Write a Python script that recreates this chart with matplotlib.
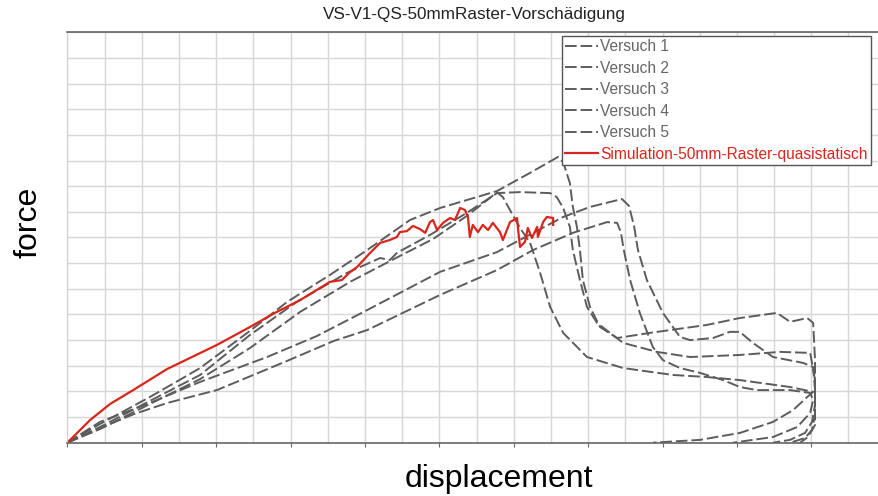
import numpy as np
import matplotlib
matplotlib.use("Agg")
import matplotlib.pyplot as plt

plt.rcParams['font.family'] = ['Liberation Sans', 'DejaVu Sans']

# Versuch curves (displacement, force) in grid units
v1_x = [0, 0.88, 2.22, 3.57, 4.91, 5.91, 7.06, 8.06, 9.21, 10.02, 10.74, 11.55, 12.44, 13.19,
        13.33, 13.51, 13.59, 13.70, 13.78, 13.86, 14.05, 14.32, 14.78, 15.66, 17.19, 18.08,
        19.08, 19.43, 19.89, 20.05, 20.10, 20.10, 20.10, 19.91, 19.70]
v1_y = [0, 0.73, 1.78, 2.91, 4.36, 5.49, 6.54, 7.51, 8.68, 9.15, 9.46, 9.81, 10.52, 11.14,
        10.94, 10.12, 9.19, 8.41, 7.51, 6.34, 5.29, 4.51, 4.08, 4.28, 4.59, 4.86,
        5.06, 4.71, 4.86, 4.67, 3.22, 1.66, 0.69, 0.22, 0]

v2_x = [0, 0.88, 2.22, 3.57, 4.91, 6.17, 7.52, 8.41, 8.67, 8.86, 9.75, 10.74, 11.55, 12.17,
        12.98, 13.16, 13.33, 13.51, 13.59, 13.78, 13.97, 14.24, 14.94, 15.85, 16.74, 18.08,
        19.16, 19.97, 20.10, 20.10, 20.02, 19.83, 19.43, 18.97]
v2_y = [0, 0.61, 1.63, 2.64, 4.20, 5.49, 6.62, 7.20, 7.12, 7.40, 8.10, 8.96, 9.73, 9.77,
        9.73, 9.57, 9.15, 8.41, 7.51, 6.34, 5.29, 4.67, 3.89, 3.54, 3.34, 3.42,
        3.54, 3.50, 2.44, 1.47, 0.81, 0.38, 0.11, 0]

v3_x = [0, 0.88, 2.22, 3.57, 4.91, 6.26, 7.60, 8.94, 9.83, 10.74, 11.36, 11.55, 11.71, 11.90,
        12.17, 12.44, 12.71, 12.98, 13.33, 13.97, 14.94, 16.28, 17.19, 18.08, 19.43, 20.05,
        19.89, 19.51, 18.97, 18.08, 17.01, 15.74]
v3_y = [0, 0.53, 1.51, 2.48, 3.69, 5.10, 6.27, 7.28, 7.94, 8.84, 9.54, 9.77, 9.57, 9.07,
        8.37, 7.79, 6.62, 5.29, 4.28, 3.34, 2.91, 2.64, 2.56, 2.44, 2.17, 1.98,
        1.78, 1.27, 0.81, 0.38, 0.11, 0]

v4_x = [0, 0.88, 2.22, 3.57, 5.37, 6.71, 8.06, 10.02, 11.55, 13.33, 14.05, 14.91, 15.10, 15.24,
        15.34, 15.58, 16.01, 16.47, 16.74, 17.36, 17.81, 18.08, 18.43, 18.97, 19.78, 20.05,
        20.10, 20.10, 20.02, 19.83, 19.43]
v4_y = [0, 0.81, 1.55, 2.37, 3.34, 4.16, 5.17, 6.66, 7.43, 8.80, 9.19, 9.50, 9.23, 8.41,
        7.51, 6.34, 5.06, 4.12, 4.00, 4.08, 4.32, 4.32, 3.89, 3.34, 3.11, 2.95,
        2.05, 1.08, 0.50, 0.18, 0]

v5_x = [0, 0.88, 1.80, 2.69, 4.02, 5.83, 7.17, 8.06, 10.02, 11.55, 12.52, 13.59, 14.51, 14.78,
        14.88, 14.96, 15.13, 15.39, 15.74, 16.01, 16.47, 17.01, 17.63, 18.08, 18.54, 19.43,
        19.97, 20.05, 19.97, 19.62, 18.97, 17.89]
v5_y = [0, 0.57, 1.12, 1.55, 2.05, 3.14, 3.97, 4.39, 5.76, 6.73, 7.51, 8.18, 8.60, 8.57,
        8.21, 7.51, 6.34, 5.06, 3.73, 3.22, 2.91, 2.72, 2.44, 2.17, 2.05, 2.05,
        1.94, 1.66, 1.16, 0.61, 0.22, 0]

# Simulation curve
sim_x = [0, 0.21, 0.61, 1.15, 1.77, 2.68, 4.02, 4.91, 5.58, 6.26, 7.06, 7.38, 7.60, 7.79,
         8.14, 8.41, 8.67, 8.86, 8.94, 9.13, 9.29, 9.48, 9.62, 9.75, 9.83, 9.94, 10.10,
         10.29, 10.42, 10.56, 10.69, 10.77, 10.82, 10.90, 11.04, 11.17, 11.31, 11.44, 11.63,
         11.71, 11.90, 12.09, 12.12, 12.17, 12.30, 12.38, 12.49, 12.63, 12.65, 12.79, 12.89,
         13.06, 13.06]
sim_y = [0, 0.30, 0.88, 1.51, 2.05, 2.87, 3.81, 4.51, 5.06, 5.56, 6.27, 6.34, 6.65, 6.85,
         7.40, 7.79, 7.90, 8.02, 8.21, 8.25, 8.45, 8.33, 8.18, 8.60, 8.68, 8.29, 8.57,
         8.76, 8.68, 9.15, 9.07, 8.80, 8.02, 8.49, 8.21, 8.49, 8.29, 8.57, 8.21,
         7.90, 8.60, 8.76, 8.29, 7.63, 7.82, 8.37, 7.98, 8.41, 8.02, 8.60, 8.80,
         8.76, 8.49]

labels = ['Versuch 1', 'Versuch 2', 'Versuch 3', 'Versuch 4', 'Versuch 5']
tests = [(v1_x, v1_y), (v2_x, v2_y), (v3_x, v3_y), (v4_x, v4_y), (v5_x, v5_y)]

fig = plt.figure(figsize=(8.79, 4.96), dpi=100)
ax = fig.add_axes([0.0766, 0.1075, 0.9234, 0.8274])

gray = '#5c5c5c'
for (x, y), lab in zip(tests, labels):
    ax.plot(x, y, color=gray, lw=1.4, linestyle=(0, (6, 2)), label=lab)
ax.plot(sim_x, sim_y, color='#d9261c', lw=1.6, label='Simulation-50mm-Raster-quasistatisch')

ax.set_xlim(0, 21.82)
ax.set_ylim(0, 16)
ax.set_xticks(np.arange(0, 22, 2))
ax.set_xticks(np.arange(0, 22, 1), minor=True)
ax.set_yticks(np.arange(0, 17, 1))
ax.grid(True, which='both', color='#d6d6d6', lw=1.0)
ax.set_axisbelow(True)
ax.tick_params(axis='x', which='major', length=3, color='#666666', labelbottom=False)
ax.tick_params(axis='x', which='minor', length=0)
ax.tick_params(axis='y', length=0, labelleft=False)
for s in ['top', 'bottom']:
    ax.spines[s].set_color('#666666')
    ax.spines[s].set_linewidth(1.2)
ax.spines['left'].set_color('#d0d0d0')
ax.spines['right'].set_visible(False)

leg = ax.legend(loc='upper right', bbox_to_anchor=(0.990, 0.992), borderaxespad=0,
                fontsize=11.2, fancybox=False, edgecolor='#555555', framealpha=1,
                handlelength=2.1, handletextpad=0.15, labelspacing=0.42, borderpad=0.22,
                labelcolor='linecolor')
leg.get_frame().set_linewidth(1.0)
for t in leg.get_texts()[:5]:
    t.set_color('#666666')

fig.text(0.540, 0.970, 'VS-V1-QS-50mmRaster-Vorschädigung', ha='center', va='center',
         fontsize=12.3, color='#222222')
fig.text(0.568, 0.0188, 'displacement', ha='center', va='baseline', fontsize=23)
fig.text(0.032, 0.552, 'force', ha='center', va='center', rotation=90, fontsize=23)

fig.savefig('out.png', dpi=100)
